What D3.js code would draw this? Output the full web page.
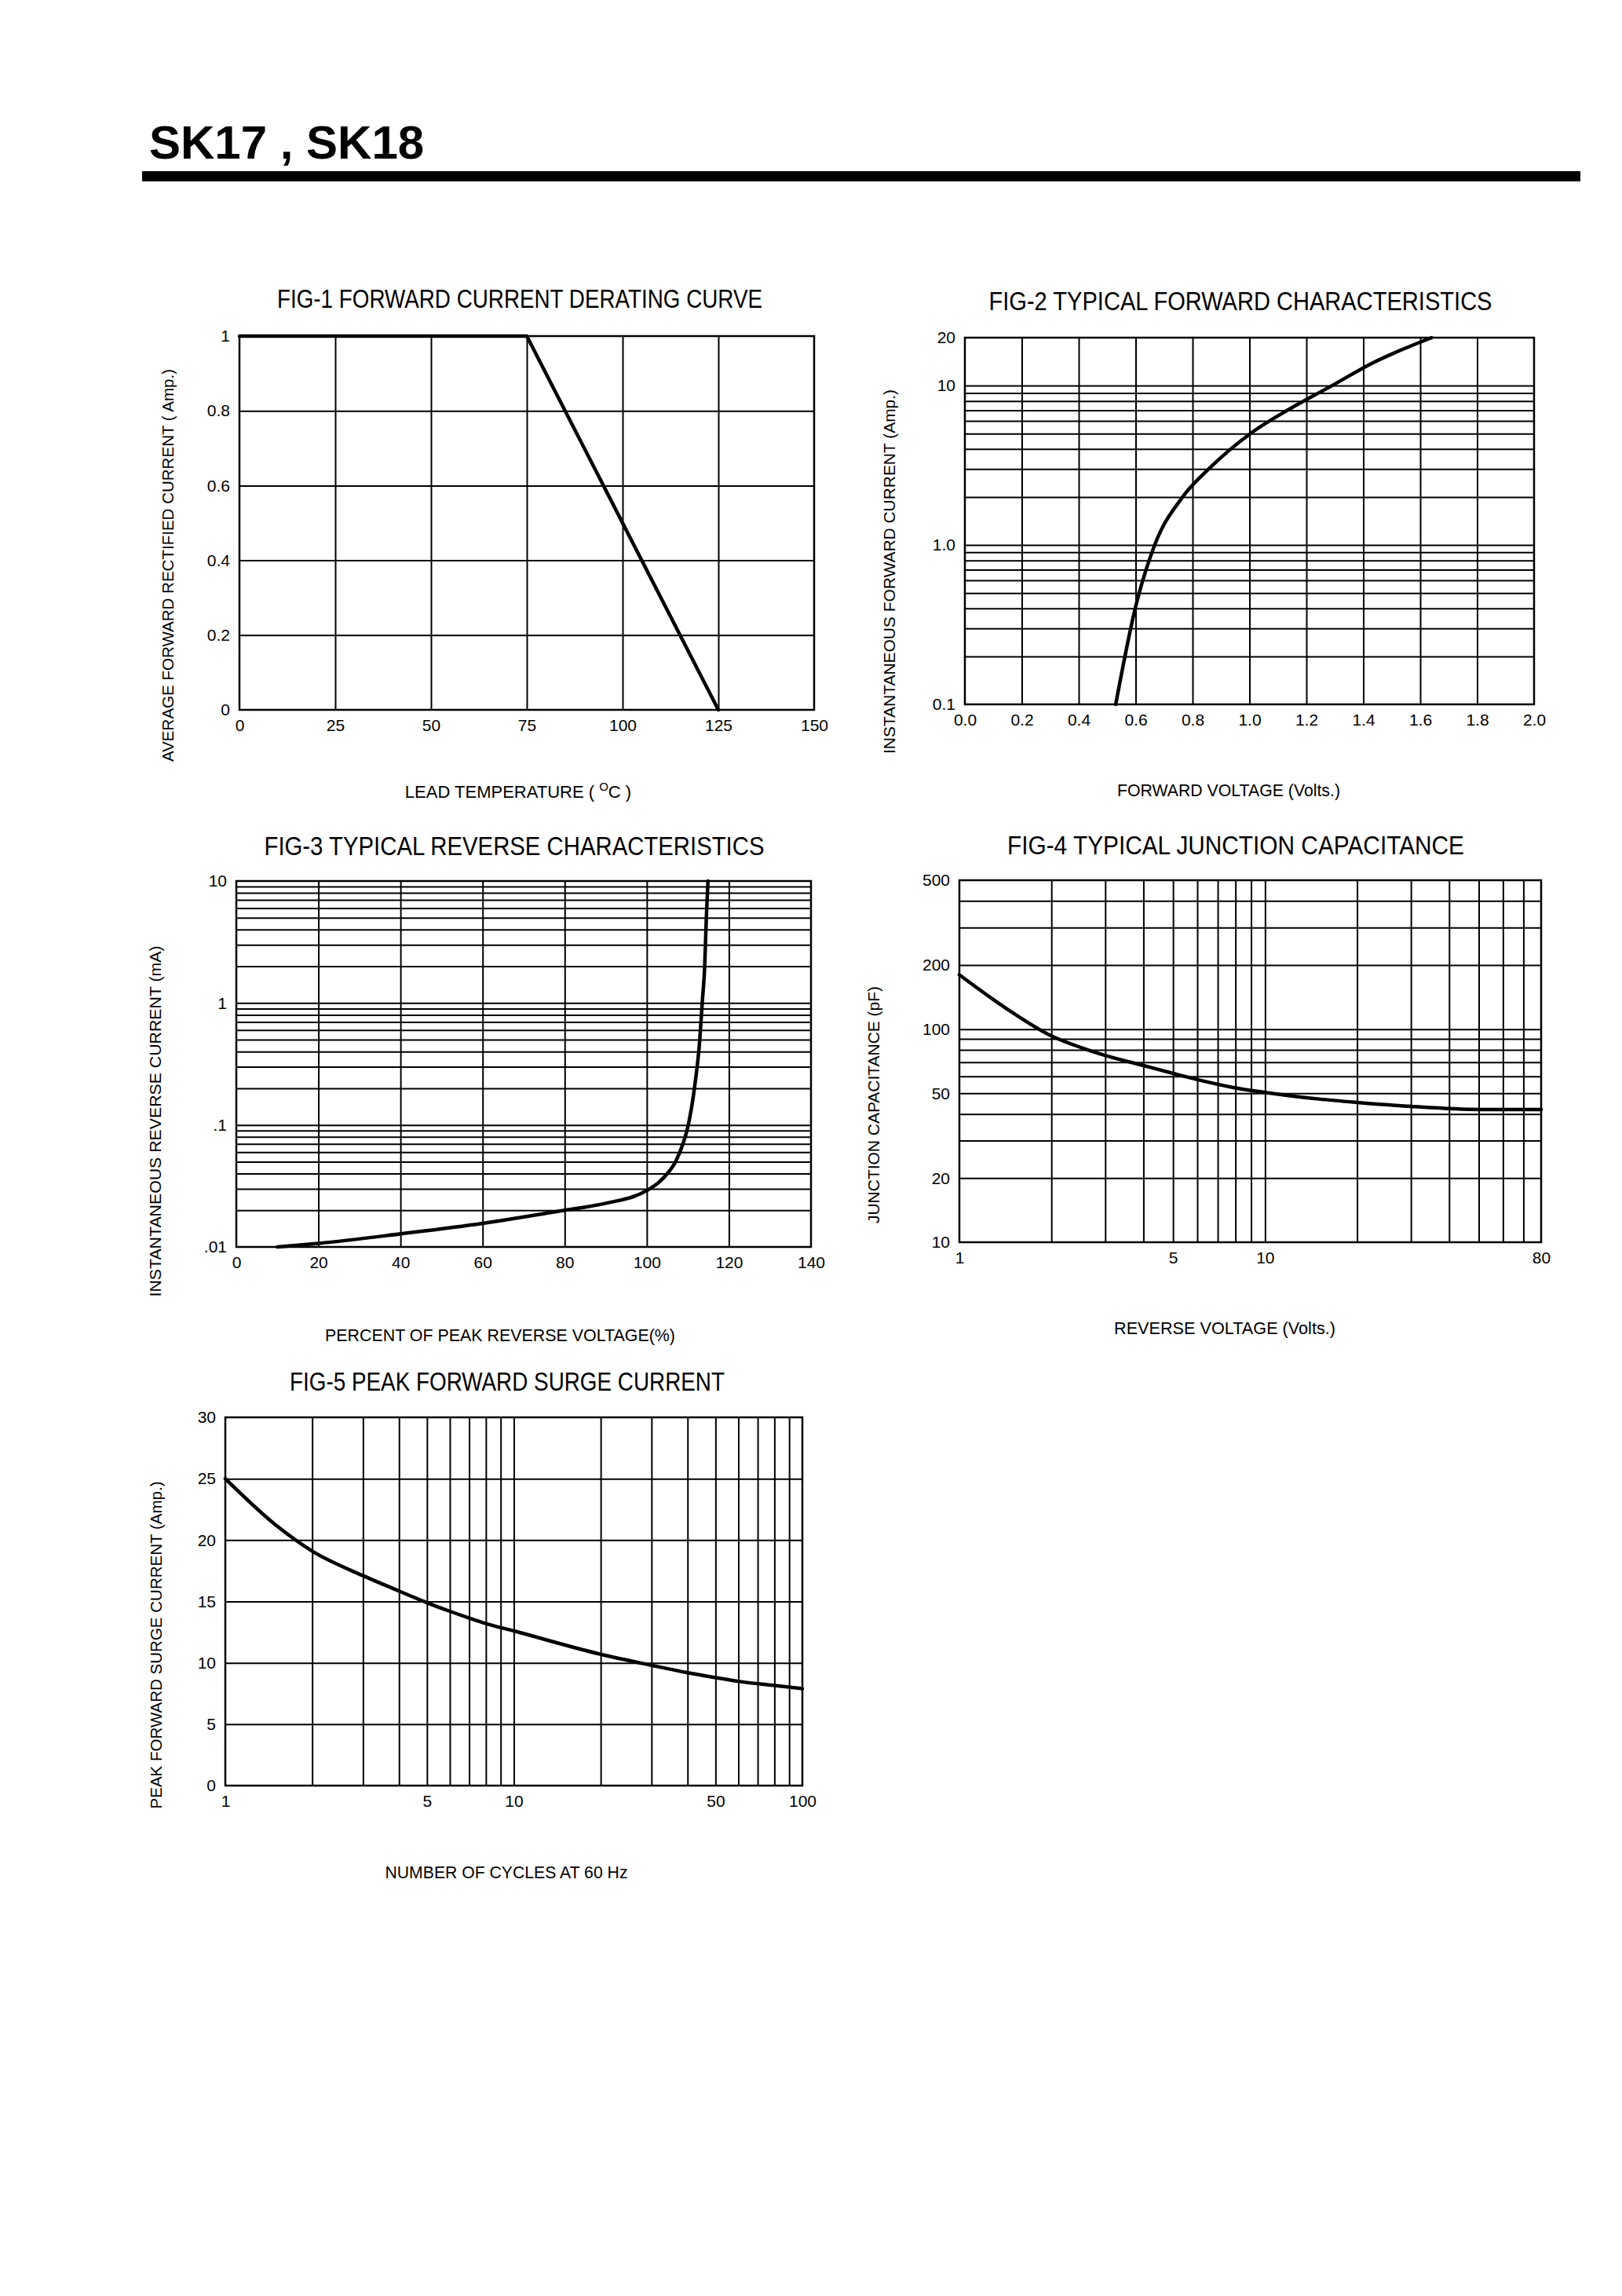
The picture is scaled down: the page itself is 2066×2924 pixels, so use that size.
<!DOCTYPE html>
<html><head><meta charset="utf-8">
<script src="https://cdn.jsdelivr.net/npm/d3@7"></script>
<style>body{margin:0;background:#fff}svg{display:block}</style>
</head><body>
<script>
// ---------------- DATA ----------------
const fig1Temp = [0, 75, 125];
const fig1Current = [1, 1, 0];
const fig1XTicks = [0, 25, 50, 75, 100, 125, 150];
const fig1YTicks = [0, 0.2, 0.4, 0.6, 0.8, 1];
const fig1YLabels = ["0", "0.2", "0.4", "0.6", "0.8", "1"];

const fig2Voltage = [0.53, 0.60, 0.667, 0.765, 0.857, 1.003, 1.133, 1.29, 1.43, 1.64];
const fig2Current = [0.1, 0.41, 1.0, 2.0, 3.0, 5.0, 7.0, 10, 13.8, 20];
const fig2XTicks = [0, 0.2, 0.4, 0.6, 0.8, 1.0, 1.2, 1.4, 1.6, 1.8, 2.0];
const fig2YTicks = [0.1, 1, 10, 20];
const fig2YLabels = ["0.1", "1.0", "10", "20"];
const fig2YGrid = [0.2, 0.3, 0.4, 0.5, 0.6, 0.7, 0.8, 0.9, 1, 2, 3, 4, 5, 6, 7, 8, 9, 10];

const fig3Percent = [10, 20, 40, 60, 80, 90, 100, 103, 105, 107, 108.8, 110.1, 111.6, 112.9, 113.5, 114.1, 114.5, 114.9];
const fig3Current = [0.01, 0.0107, 0.0128, 0.0156, 0.02, 0.0228, 0.029, 0.034, 0.04, 0.05, 0.07, 0.1, 0.2, 0.5, 1, 2, 5, 10];
const fig3XTicks = [0, 20, 40, 60, 80, 100, 120, 140];
const fig3YTicks = [0.01, 0.1, 1, 10];
const fig3YLabels = [".01", ".1", "1", "10"];
const fig3YGrid = [0.02, 0.03, 0.04, 0.05, 0.06, 0.07, 0.08, 0.09, 0.1, 0.2, 0.3, 0.4, 0.5, 0.6, 0.7, 0.8, 0.9, 1, 2, 3, 4, 5, 6, 7, 8, 9];

const fig4Voltage = [1, 1.5, 2, 2.5, 3, 4, 5, 6, 8, 10, 15, 20, 30, 50, 80];
const fig4Capacitance = [180, 119, 93, 82, 75.3, 67.5, 62, 58, 53, 50.5, 47, 45.3, 43.4, 42, 42];
const fig4XTicks = [1, 5, 10, 80];
const fig4XGrid = [2, 3, 4, 5, 6, 7, 8, 9, 10, 20, 30, 40, 50, 60, 70];
const fig4YTicks = [10, 20, 50, 100, 200, 500];
const fig4YGrid = [20, 30, 40, 50, 60, 70, 80, 90, 100, 200, 300, 400];

const fig5Cycles = [1, 1.5, 2, 3, 4, 5, 6, 7, 8, 10, 20, 30, 40, 50, 60, 80, 100];
const fig5Current = [25, 21.2, 19.1, 17.1, 15.85, 14.9, 14.2, 13.65, 13.2, 12.6, 10.7, 9.8, 9.2, 8.8, 8.5, 8.15, 7.9];
const fig5XTicks = [1, 5, 10, 50, 100];
const fig5XGrid = [2, 3, 4, 5, 6, 7, 8, 9, 10, 20, 30, 40, 50, 60, 70, 80, 90];
const fig5YTicks = [0, 5, 10, 15, 20, 25, 30];

// ---------------- DRAW ----------------
const NARROW = "'Liberation Sans Narrow','Arial Narrow','Liberation Sans',Arial,sans-serif";
const SANS = "'Liberation Sans',Arial,Helvetica,sans-serif";
const SMOOTH = d3.curveMonotoneX;

const svg = d3.select("body").append("svg")
  .attr("width", 2066).attr("height", 2924)
  .attr("viewBox", "0 0 2066 2924");
svg.append("rect").attr("width", 2066).attr("height", 2924).attr("fill", "#fff");

// header
svg.append("text").attr("x", 190).attr("y", 202)
  .attr("font-family", SANS).attr("font-weight", "bold").attr("font-size", 60)
  .attr("fill", "#000").text("SK17 , SK18");
svg.append("rect").attr("x", 181).attr("y", 218).attr("width", 1832).attr("height", 13).attr("fill", "#000");

function drawChart(c) {
  const g = svg.append("g");
  const x = (c.xLog ? d3.scaleLog() : d3.scaleLinear()).domain(c.xDomain).range([c.x0, c.x1]);
  const y = (c.yLog ? d3.scaleLog() : d3.scaleLinear()).domain(c.yDomain).range([c.y1, c.y0]);
  const h = c.y1 - c.y0, w = c.x1 - c.x0;

  // vertical grid
  const gx = g.append("g").attr("transform", `translate(0,${c.y1})`)
    .call(d3.axisBottom(x).tickValues(c.xGrid).tickSize(-h).tickFormat(""));
  gx.select(".domain").remove();
  gx.selectAll("line").attr("stroke", "#000").attr("stroke-width", 2);
  // horizontal grid
  const gy = g.append("g").attr("transform", `translate(${c.x0},0)`)
    .call(d3.axisLeft(y).tickValues(c.yGrid).tickSize(-w).tickFormat(""));
  gy.select(".domain").remove();
  gy.selectAll("line").attr("stroke", "#000").attr("stroke-width", 2);

  // frame
  g.append("rect").attr("x", c.x0).attr("y", c.y0).attr("width", w).attr("height", h)
    .attr("fill", "none").attr("stroke", "#000").attr("stroke-width", 2.5);

  // tick labels
  const ax = g.append("g").attr("transform", `translate(0,${c.y1})`)
    .call(d3.axisBottom(x).tickValues(c.xTicks).tickSize(0).tickPadding(12)
      .tickFormat((d, i) => c.xLabels[i]));
  ax.select(".domain").remove();
  ax.selectAll("text").attr("font-family", NARROW).attr("font-size", 21).attr("fill", "#000");
  const ay = g.append("g").attr("transform", `translate(${c.x0},0)`)
    .call(d3.axisLeft(y).tickValues(c.yTicks).tickSize(0).tickPadding(12)
      .tickFormat((d, i) => c.yLabels[i]));
  ay.select(".domain").remove();
  ay.selectAll("text").attr("font-family", NARROW).attr("font-size", 21).attr("fill", "#000");

  // curve
  const pts = c.xs.map((v, i) => [v, c.ys[i]]);
  g.append("path").datum(pts)
    .attr("d", d3.line().x(d => x(d[0])).y(d => y(d[1])).curve(c.curve))
    .attr("fill", "none").attr("stroke", "#000").attr("stroke-width", 4.5)
    .attr("stroke-linejoin", "round").attr("stroke-linecap", "round");

  // title
  g.append("text").attr("x", c.title[1]).attr("y", c.title[2])
    .attr("text-anchor", "middle").attr("font-family", NARROW).attr("font-size", 33)
    .attr("textLength", c.title[3]).attr("lengthAdjust", "spacingAndGlyphs")
    .attr("fill", "#000").text(c.title[0]);
  // x label
  const xl = g.append("text").attr("x", c.xlab[1]).attr("y", c.xlab[2])
    .attr("text-anchor", "middle").attr("font-family", NARROW).attr("font-size", 22)
    .attr("fill", "#000");
  if (Array.isArray(c.xlab[0])) {
    xl.append("tspan").text(c.xlab[0][0]);
    xl.append("tspan").attr("dy", -9).attr("font-size", 15).text(c.xlab[0][1]);
    xl.append("tspan").attr("dy", 9).text(c.xlab[0][2]);
  } else {
    xl.attr("textLength", c.xlab[3]).attr("lengthAdjust", "spacingAndGlyphs").text(c.xlab[0]);
  }
  // y label
  g.append("text").attr("transform", `translate(${c.ylab[1]},${c.ylab[2]}) rotate(-90)`)
    .attr("text-anchor", "middle").attr("dominant-baseline", "middle")
    .attr("font-family", SANS).attr("font-size", 20)
    .attr("textLength", c.ylab[3]).attr("lengthAdjust", "spacingAndGlyphs")
    .attr("fill", "#000").text(c.ylab[0]);
}

drawChart({
  x0: 305, x1: 1037, y0: 428, y1: 904,
  xDomain: [0, 150], yDomain: [0, 1],
  xGrid: [25, 50, 75, 100, 125], yGrid: [0.2, 0.4, 0.6, 0.8],
  xTicks: fig1XTicks, xLabels: fig1XTicks.map(String),
  yTicks: fig1YTicks, yLabels: fig1YLabels,
  xs: fig1Temp, ys: fig1Current, curve: d3.curveLinear,
  title: ["FIG-1 FORWARD CURRENT DERATING CURVE", 662, 392, 618],
  xlab: [["LEAD TEMPERATURE ( ", "O", "C )"], 660, 1016, 280],
  ylab: ["AVERAGE FORWARD RECTIFIED CURRENT ( Amp.)", 216, 720, 500]
});

drawChart({
  x0: 1229, x1: 1954, y0: 430, y1: 897,
  xDomain: [0, 2], yDomain: [0.1, 20], yLog: true,
  xGrid: fig2XTicks.slice(1, -1), yGrid: fig2YGrid,
  xTicks: fig2XTicks, xLabels: fig2XTicks.map(d => d.toFixed(1)),
  yTicks: fig2YTicks, yLabels: fig2YLabels,
  xs: fig2Voltage, ys: fig2Current, curve: SMOOTH,
  title: ["FIG-2 TYPICAL FORWARD CHARACTERISTICS", 1580, 395, 641],
  xlab: ["FORWARD VOLTAGE (Volts.)", 1565, 1014, 284],
  ylab: ["INSTANTANEOUS FORWARD CURRENT (Amp.)", 1135, 728, 464]
});

drawChart({
  x0: 301, x1: 1033, y0: 1122, y1: 1588,
  xDomain: [0, 140], yDomain: [0.01, 10], yLog: true,
  xGrid: fig3XTicks.slice(1, -1), yGrid: fig3YGrid,
  xTicks: fig3XTicks, xLabels: fig3XTicks.map(String),
  yTicks: fig3YTicks, yLabels: fig3YLabels,
  xs: fig3Percent, ys: fig3Current, curve: SMOOTH,
  title: ["FIG-3 TYPICAL REVERSE CHARACTERISTICS", 655, 1089, 637],
  xlab: ["PERCENT OF PEAK REVERSE VOLTAGE(%)", 637, 1708, 446],
  ylab: ["INSTANTANEOUS REVERSE CURRENT (mA)", 200, 1428, 447]
});

drawChart({
  x0: 1222, x1: 1963, y0: 1121, y1: 1582,
  xDomain: [1, 80], xLog: true, yDomain: [10, 500], yLog: true,
  xGrid: fig4XGrid, yGrid: fig4YGrid,
  xTicks: fig4XTicks, xLabels: fig4XTicks.map(String),
  yTicks: fig4YTicks, yLabels: fig4YTicks.map(String),
  xs: fig4Voltage, ys: fig4Capacitance, curve: SMOOTH,
  title: ["FIG-4 TYPICAL JUNCTION CAPACITANCE", 1574, 1088, 582],
  xlab: ["REVERSE VOLTAGE (Volts.)", 1560, 1699, 282],
  ylab: ["JUNCTION CAPACITANCE (pF)", 1115, 1407, 302]
});

drawChart({
  x0: 287, x1: 1022, y0: 1805, y1: 2274,
  xDomain: [1, 100], xLog: true, yDomain: [0, 30],
  xGrid: fig5XGrid, yGrid: [5, 10, 15, 20, 25],
  xTicks: fig5XTicks, xLabels: fig5XTicks.map(String),
  yTicks: fig5YTicks, yLabels: fig5YTicks.map(String),
  xs: fig5Cycles, ys: fig5Current, curve: SMOOTH,
  title: ["FIG-5 PEAK FORWARD SURGE CURRENT", 646, 1771, 554],
  xlab: ["NUMBER OF CYCLES AT 60 Hz", 645, 2392, 309],
  ylab: ["PEAK FORWARD SURGE CURRENT (Amp.)", 201, 2095, 417]
});
</script>
</body></html>
